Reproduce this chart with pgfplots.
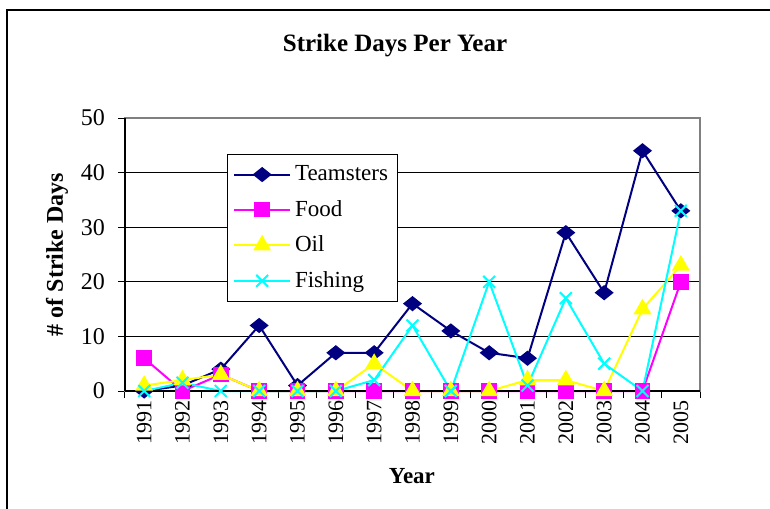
\documentclass[border=0pt]{standalone}
\usepackage{fontspec}
\setmainfont{Liberation Serif}
\usepackage{pgfplots}
\usepackage{pgfplotstable}
\pgfplotsset{compat=1.18}
\usetikzlibrary{calc}

\definecolor{teamc}{RGB}{0,0,128}
\definecolor{foodc}{RGB}{255,0,255}
\definecolor{oilc}{RGB}{255,255,0}
\definecolor{fishc}{RGB}{0,255,255}

% year index 0 = 1991
\pgfplotstableread{
idx team food oil fish
0   0    6    1   0
1   1    0    2   1.5
2   4    3    3   0
3   12   0    0   0
4   1    0    0   0
5   7    0    0   0
6   7    0    5   2
7   16   0    0   12
8   11   0    0   0
9   7    0    0   20
10  6    0    2   1
11  29   0    2   17
12  18   0    0   5
13  44   0    15  0
14  33   20   23  33
}\strikes

\begin{document}
\begin{tikzpicture}
\begin{axis}[
    name=ax,
    width=287.5pt, height=136.5pt, scale only axis,
    xmin=-0.5, xmax=14.5, ymin=0, ymax=50,
    clip=false,
    xtick={-0.5,0.5,...,14.5}, xticklabels={},
    extra x ticks={0,1,...,14},
    extra x tick labels={1991,1992,1993,1994,1995,1996,1997,1998,1999,2000,2001,2002,2003,2004,2005},
    extra x tick style={major tick length=0pt, tick label style={rotate=90, anchor=east, font=\fontsize{11}{13}\selectfont, xshift=-1pt}},
    ytick={0,10,...,50},
    xtick pos=bottom, ytick pos=left,
    tick align=outside,
    major tick length=3.5pt,
    tick style={black, line width=0.5pt},
    ymajorgrids, grid style={black, line width=0.5pt},
    axis line style={draw=gray, line width=0.8pt},
    /pgf/number format/assume math mode=true,
    tick label style={font=\fontsize{12}{14}\selectfont},
    y tick label style={xshift=-3pt},
    title={Strike Days Per Year},
    title style={at={(axis description cs:0.4696,1.22)}, anchor=center, font=\fontsize{12.5}{15}\selectfont\bfseries},
    xlabel={Year},
    xlabel style={at={(axis description cs:0.499,-0.311)}, anchor=center, font=\fontsize{11.5}{14}\selectfont\bfseries},
    ylabel={\# of Strike Days},
    ylabel style={at={(axis description cs:-0.1183,0.5)}, anchor=center, rotate=0, font=\fontsize{12}{14}\selectfont\bfseries},
    legend style={at={(axis description cs:0.177,0.868)}, anchor=north west,
        draw=black, line width=0.5pt, fill=white, inner xsep=3pt, inner ysep=3.5pt,
        font=\fontsize{11.5}{13.5}\selectfont, row sep=4.3pt},
    legend cell align=left,
    legend image code/.code={%
        \draw[mark repeat=2,mark phase=2] plot coordinates {(0cm,0cm) (0.49cm,0cm) (0.98cm,0cm)};},
    every axis plot/.append style={line width=1pt},
]
\addplot[teamc, mark=square*, mark size=2.8pt, mark options={fill=teamc, yscale=0.8, rotate=45}] table[x=idx, y=team] {\strikes};
\addlegendentry{Teamsters}
\addplot[foodc, mark=square*, mark size=3.4pt, mark options={fill=foodc}] table[x=idx, y=food] {\strikes};
\addlegendentry{Food}
\addplot[oilc, mark=triangle*, mark size=4.2pt, mark options={fill=oilc}] table[x=idx, y=oil] {\strikes};
\addlegendentry{Oil}
\addplot[fishc, mark=x, mark size=4.2pt, mark options={line width=1pt}] table[x=idx, y=fish] {\strikes};
\addlegendentry{Fishing}
\draw[black, line width=0.8pt] (rel axis cs:0,0) -- (rel axis cs:0,1);
\draw[black, line width=0.8pt] (rel axis cs:0,0) -- (rel axis cs:1,0);
\end{axis}
\pgfresetboundingbox
\path[use as bounding box] ($(ax.south west)+(-62.5pt,-58.5pt)$) rectangle ($(ax.south west)+(322.5pt,195.5pt)$);
\draw[black, line width=0.8pt] ($(ax.south west)+(-59pt,-80pt)$) |- ($(ax.south west)+(340pt,190.5pt)$);
\end{tikzpicture}
\end{document}
